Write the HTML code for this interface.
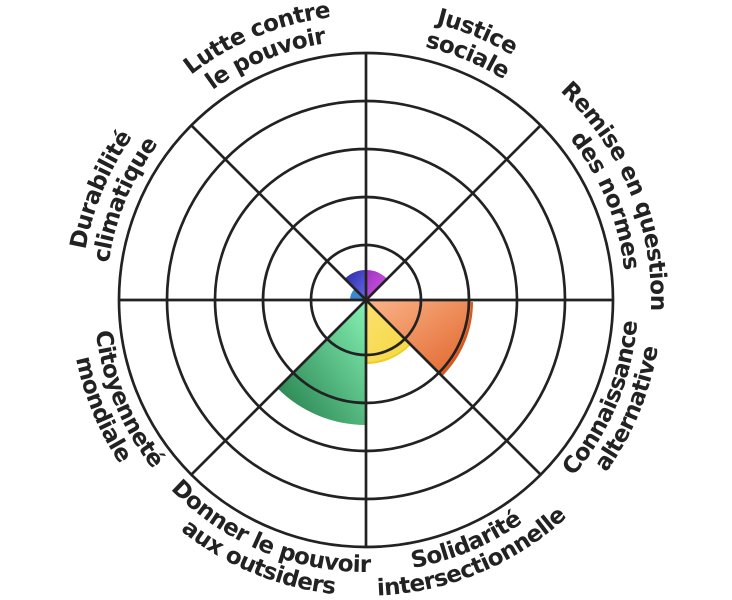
<!DOCTYPE html>
<html><head><meta charset="utf-8"><style>
html,body{margin:0;padding:0;background:#fff;width:732px;height:600px;overflow:hidden}
text{font-family:"DejaVu Sans","Liberation Sans",sans-serif;font-weight:bold;font-size:23px;fill:#222;letter-spacing:-0.6px}
</style></head><body>
<svg width="732" height="600" viewBox="0 0 732 600" xmlns="http://www.w3.org/2000/svg">
<defs>
<linearGradient id="gO" x1="0" y1="0" x2="1" y2="1"><stop offset="0" stop-color="#fbb58a"/><stop offset="1" stop-color="#e0642a"/></linearGradient>
<linearGradient id="gG" x1="1" y1="0" x2="0" y2="1"><stop offset="0" stop-color="#86f2b4"/><stop offset="1" stop-color="#207a48"/></linearGradient>
<linearGradient id="gY" x1="0" y1="0" x2="1" y2="1"><stop offset="0" stop-color="#fbe070"/><stop offset="1" stop-color="#f6d840"/></linearGradient>
<linearGradient id="gP" x1="0" y1="0" x2="1" y2="1"><stop offset="0" stop-color="#a030c0"/><stop offset="1" stop-color="#d060e8"/></linearGradient>
<linearGradient id="gI" x1="0" y1="0" x2="1" y2="1"><stop offset="0" stop-color="#2828a8"/><stop offset="1" stop-color="#6a6ae8"/></linearGradient>
<path id="lut1" d="M102.69,409.06 A285,285 0 0 1 629.31,190.94"/>
<path id="lut2" d="M125.79,399.5 A260,260 0 0 1 606.21,200.5"/>
<path id="jus1" d="M102.69,190.94 A285,285 0 0 1 629.31,409.06"/>
<path id="jus2" d="M125.79,200.5 A260,260 0 0 1 606.21,399.5"/>
<path id="rem1" d="M256.94,36.69 A285,285 0 0 1 475.06,563.31"/>
<path id="rem2" d="M266.5,59.79 A260,260 0 0 1 465.5,540.21"/>
<path id="dur1" d="M256.94,563.31 A285,285 0 0 1 475.06,36.69"/>
<path id="dur2" d="M266.5,540.21 A260,260 0 0 1 465.5,59.79"/>
<path id="con1" d="M261.91,551.3 A272,272 0 0 0 470.09,48.7"/>
<path id="con2" d="M252.73,573.47 A296,296 0 0 0 479.27,26.53"/>
<path id="sol1" d="M114.7,404.09 A272,272 0 0 0 617.3,195.91"/>
<path id="sol2" d="M92.53,413.27 A296,296 0 0 0 639.47,186.73"/>
<path id="don1" d="M114.7,195.91 A272,272 0 0 0 617.3,404.09"/>
<path id="don2" d="M92.53,186.73 A296,296 0 0 0 639.47,413.27"/>
<path id="cit1" d="M261.91,48.7 A272,272 0 0 0 470.09,551.3"/>
<path id="cit2" d="M252.73,26.53 A296,296 0 0 0 479.27,573.47"/>
</defs>
<path d="M366,300 L366,270 A30,30 0 0 1 387.2,278.8 Z" fill="url(#gP)"/>
<path d="M366,300 L344.8,278.8 A30,30 0 0 1 366,270 Z" fill="url(#gI)"/>
<path d="M366,300 L350,300 A16,16 0 0 1 354.7,288.7 Z" fill="#3a88d0"/>
<path d="M368,302 L473,302 A105,105 0 0 1 442.2,376.2 Z" fill="#d85820"/>
<path d="M366,300 L471,300 A105,105 0 0 1 440.2,374.2 Z" fill="url(#gO)"/>
<path d="M366,302 L409.8,345.8 A62,62 0 0 1 366,364 Z" fill="#f0cc20"/>
<path d="M366,300 L409.8,343.8 A62,62 0 0 1 366,362 Z" fill="url(#gY)"/>
<path d="M366,300 L366,425 A125,125 0 0 1 277.6,388.4 Z" fill="url(#gG)"/>
<g fill="none" stroke="#222" stroke-width="2.7">
<circle cx="366" cy="300" r="55"/>
<circle cx="366" cy="300" r="103"/>
<circle cx="366" cy="300" r="151"/>
<circle cx="366" cy="300" r="199"/>
<circle cx="366" cy="300" r="247"/>
<line x1="119" y1="300" x2="613" y2="300"/>
<line x1="366" y1="53" x2="366" y2="547"/>
<line x1="191.3" y1="125.3" x2="540.7" y2="474.7"/>
<line x1="540.7" y1="125.3" x2="191.3" y2="474.7"/>
</g>
<text text-anchor="middle"><textPath href="#lut1" startOffset="50%">Lutte contre</textPath></text>
<text text-anchor="middle"><textPath href="#lut2" startOffset="50%">le pouvoir</textPath></text>
<text text-anchor="middle"><textPath href="#jus1" startOffset="50%">Justice</textPath></text>
<text text-anchor="middle"><textPath href="#jus2" startOffset="50%">sociale</textPath></text>
<text text-anchor="middle"><textPath href="#rem1" startOffset="50%">Remise en question</textPath></text>
<text text-anchor="middle"><textPath href="#rem2" startOffset="50%">des normes</textPath></text>
<text text-anchor="middle"><textPath href="#dur1" startOffset="50%">Durabilité</textPath></text>
<text text-anchor="middle"><textPath href="#dur2" startOffset="50%">climatique</textPath></text>
<text text-anchor="middle"><textPath href="#con1" startOffset="50%">Connaissance</textPath></text>
<text text-anchor="middle"><textPath href="#con2" startOffset="50%">alternative</textPath></text>
<text text-anchor="middle"><textPath href="#sol1" startOffset="50%">Solidarité</textPath></text>
<text text-anchor="middle"><textPath href="#sol2" startOffset="50%">intersectionnelle</textPath></text>
<text text-anchor="middle"><textPath href="#don1" startOffset="50%">Donner le pouvoir</textPath></text>
<text text-anchor="middle"><textPath href="#don2" startOffset="50%">aux outsiders</textPath></text>
<text text-anchor="middle"><textPath href="#cit1" startOffset="50%">Citoyenneté</textPath></text>
<text text-anchor="middle"><textPath href="#cit2" startOffset="50%">mondiale</textPath></text>
</svg>
</body></html>
